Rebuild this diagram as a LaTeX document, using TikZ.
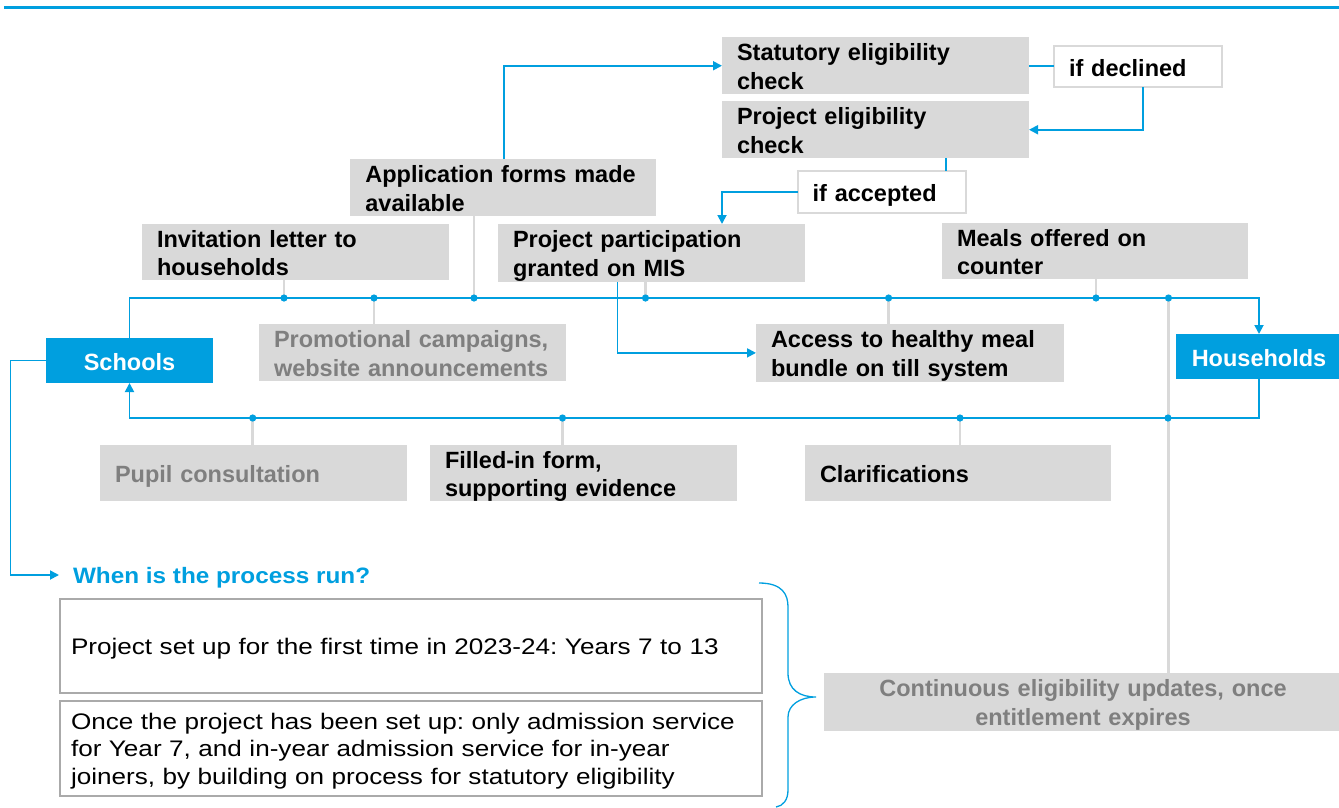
\documentclass[tikz,border=0pt]{standalone}
\usepackage{fontspec}
\setmainfont{Liberation Sans}
\newfontfamily\wideface[FakeStretch=1.16]{Liberation Sans}
\newfontfamily\headface[FakeStretch=1.09]{Liberation Sans}
\usetikzlibrary{arrows.meta,calc}
\definecolor{brandblue}{RGB}{0,159,223}
\definecolor{boxgray}{RGB}{217,217,217}
\definecolor{mutetext}{RGB}{127,127,127}
\definecolor{framegray}{RGB}{170,170,170}
\setlength{\parindent}{0pt}
\frenchspacing
% struts that fix line height and depth inside the boxes
\newcommand\bstrut{\rule[-4.5pt]{0pt}{28pt}}
\newcommand\rstrut{\rule[-5.75pt]{0pt}{27.5pt}}

\begin{document}
\begin{tikzpicture}[x=1pt,y=-1pt,
  every node/.style={inner sep=0pt, outer sep=0pt},
  stage/.style={fill=boxgray, anchor=north west, align=left, inner xsep=15pt,
    minimum height=56pt, font=\fontsize{23.5}{28}\selectfont\bfseries},
  faded/.style={text=mutetext},
  tag/.style={stage, fill=white, draw=boxgray, line width=2pt,
    minimum height=41pt, text width=138pt, minimum width=168pt},
  actor/.style={fill=brandblue, text=white, anchor=north west, minimum width=167pt,
    minimum height=45pt, font=\fontsize{23.5}{28}\selectfont\bfseries},
  note/.style={draw=framegray, line width=1.3pt, fill=white, anchor=north west,
    align=left, inner xsep=11pt, text width=680pt, minimum width=702pt,
    font=\wideface\fontsize{22.5}{27.5}\selectfont},
  flow/.style={draw=brandblue, line width=1.8pt},
  flowto/.style={flow, -{Triangle[length=9pt,width=9pt]}},
  stem/.style={draw=boxgray, line width=2.5pt},
]
\useasboundingbox (0,0) rectangle (1339,807);

% header rule
\draw[brandblue, line width=3.5pt] (4,7.7) -- (1339,7.7);

% eligibility chain
\node[stage, text width=277pt, minimum width=307pt] (stat) at (722,37)
  {\bstrut Statutory eligibility\\\bstrut check};
\node[stage, text width=277pt, minimum width=307pt] (projchk) at (722,101)
  {\bstrut Project eligibility\\\bstrut check};
\node[tag] (dec) at (1054,46) {\bstrut if declined};
\node[tag, minimum height=42pt] (acc) at (797.6,171) {\bstrut if accepted};

% steps above the outgoing line
\node[stage, text width=276pt, minimum width=306pt, minimum height=55pt] (app) at (350.4,159)
  {\bstrut Application forms made\\\bstrut available};
\node[stage, text width=277pt, minimum width=307pt, minimum height=55pt] (inv) at (142,224)
  {\bstrut Invitation letter to\\\bstrut households};
\node[stage, text width=277pt, minimum width=307pt, minimum height=55pt] (part) at (498,224)
  {\bstrut Project participation\\\bstrut granted on MIS};
\node[stage, text width=276pt, minimum width=306pt] (meals) at (942,223)
  {\bstrut Meals offered on\\\bstrut counter};

% steps below the outgoing line
\node[stage, faded, text width=277pt, minimum width=307pt] (promo) at (259,324)
  {\bstrut Promotional campaigns,\\\bstrut website announcements};
\node[stage, text width=278pt, minimum width=308pt] (access) at (756,324)
  {\bstrut Access to healthy meal\\\bstrut bundle on till system};

% actors
\node[actor] (schools) at (46,338) {\bstrut Schools};
\node[actor] (households) at (1175.5,334) {\bstrut Households};

% steps on the return line
\node[stage, faded, text width=277pt, minimum width=307pt] (pupil) at (100,445)
  {\bstrut Pupil consultation};
\node[stage, text width=277pt, minimum width=307pt] (filled) at (430,445)
  {\bstrut Filled-in form,\\\bstrut supporting evidence};
\node[stage, text width=276pt, minimum width=306pt] (clar) at (805,445)
  {\bstrut Clarifications};
\node[stage, faded, align=center, text width=488pt, minimum width=518pt] (cont) at (824,673)
  {\bstrut Continuous eligibility updates, once\\\bstrut entitlement expires};

% timing notes
\node[anchor=base west, text=brandblue, font=\headface\fontsize{22.3}{27}\selectfont\bfseries]
  (when) at (73,583) {When is the process run?};
\node[note, minimum height=94pt] (first) at (60,599)
  {\rstrut Project set up for the first time in 2023-24: Years 7 to 13};
\node[note, minimum height=95pt] (later) at (60,701)
  {\rstrut Once the project has been set up: only admission service\\
   \rstrut for Year 7, and in-year admission service for in-year\\
   \rstrut joiners, by building on process for statutory eligibility};

% junction points
\coordinate (u1) at (284,298);
\coordinate (u2) at (374,298);
\coordinate (u3) at (474,298);
\coordinate (u4) at (645.5,298);
\coordinate (u5) at (888.6,298);
\coordinate (u6) at (1096,298);
\coordinate (u7) at (1168.5,298);
\coordinate (l1) at (252.7,418);
\coordinate (l2) at (562.5,418);
\coordinate (l3) at (960,418);
\coordinate (l4) at (1168,418);
\coordinate (chkout) at ([xshift=224pt]projchk.south west);
\coordinate (partin) at ([xshift=224pt]part.north west);
\coordinate (partout) at ([xshift=119.4pt]part.south west);
\coordinate (appout) at ([xshift=153.2pt]app.north west);
\coordinate (bend) at (10.5,575);

% grey stems to the lines
\draw[stem] (inv.south -| u1) -- (u1);
\draw[stem] (u2) -- (promo.north -| u2);
\draw[stem] (app.south -| u3) -- (u3);
\draw[stem] (part.south -| u4) -- (u4);
\draw[stem] (u5) -- (access.north -| u5);
\draw[stem] (meals.south -| u6) -- (u6);
\draw[stem] (u7) -- (cont.north -| u7);
\draw[stem] (l1) -- (pupil.north -| l1);
\draw[stem] (l2) -- (filled.north -| l2);
\draw[stem] (l3) -- (clar.north -| l3);

% main flows
\draw[flowto] (schools.north) |- (households.north |- u1) -- (households.north);
\draw[flowto] (households.south) |- (schools.south |- l1) -- (schools.south);
\draw[flowto] (appout) |- (stat.west);
\draw[flow] (stat.east) -- (dec.west |- stat.east);
\draw[flowto] ([xshift=5pt]dec.south) |- (projchk.east);
\draw[flow] (chkout) -- (chkout |- acc.north);
\draw[flowto] (acc.west) -| (partin);
\draw[flowto] (partout) |- (access.west);
\draw[flowto] (schools.west) -| (bend) -- ([xshift=-14pt,yshift=8pt]when.base west);

% junction dots
\foreach \p in {u1,u2,u3,u4,u5,u6,u7,l1,l2,l3,l4}
  \fill[brandblue] (\p) circle (3.6pt);

% brace grouping the timing notes
\draw[brandblue, line width=1.3pt]
  (759,583) .. controls (783,583) and (788,595) .. (788,607) -- (788,673)
  .. controls (788,690) and (800,697) .. (816,697)
  .. controls (800,697) and (788,705) .. (788,717) -- (788,790)
  .. controls (788,800) and (783,806) .. (776,807);
\end{tikzpicture}
\end{document}
